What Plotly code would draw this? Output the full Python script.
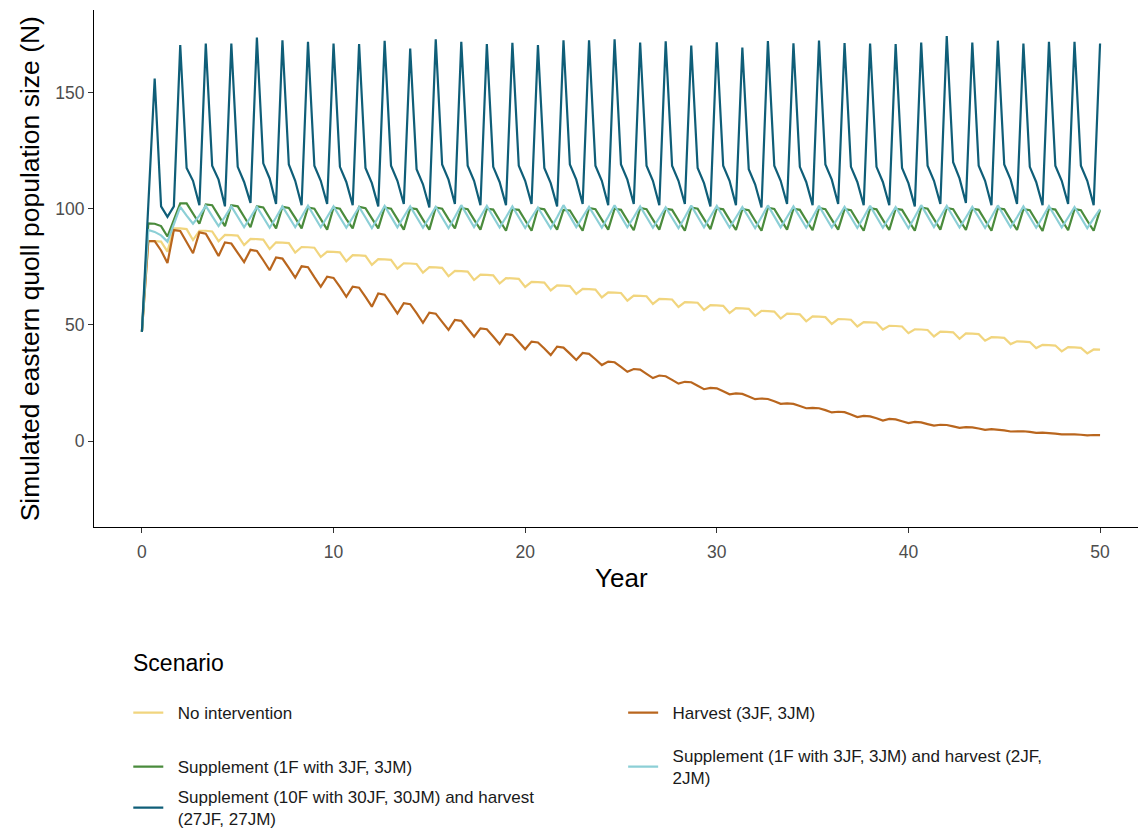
import plotly.graph_objects as go

# time grid: 151 steps of one third of a year (0 .. 50)
steps = list(range(151))
year = [s / 3 for s in steps]

no_intervention = [
    47,
    86, 86, 85.8, 81.5, 91.5, 91.5, 91.2, 86.5, 90.5, 90.5, 90.2, 86,
    88.7, 88.6, 88.4, 84.3, 87, 86.9, 86.7, 82.6, 85.5, 85.4, 85.2, 81.1,
    83.5, 83.4, 83.2, 79.2, 81.5, 81.4, 81.2, 77.3, 80, 79.9, 79.7, 75.8,
    78.3, 78.2, 78, 74.2, 76.5, 76.4, 76.2, 72.5, 74.8, 74.7, 74.5, 70.9,
    73.2, 73.1, 72.9, 69.3, 71.6, 71.5, 71.3, 67.8, 70.1, 70, 69.8, 66.3,
    68.5, 68.4, 68.2, 64.8, 67, 66.9, 66.7, 63.3, 65.5, 65.4, 65.2, 61.8,
    64, 63.9, 63.7, 60.4, 62.6, 62.5, 62.3, 59, 61.2, 61.1, 60.9, 57.7,
    59.8, 59.7, 59.5, 56.4, 58.5, 58.4, 58.2, 55.1, 57.2, 57.1, 56.9, 53.9,
    56, 55.9, 55.7, 52.7, 54.8, 54.7, 54.5, 51.5, 53.6, 53.5, 53.3, 50.4,
    52.5, 52.4, 52.2, 49.3, 51.2, 51.1, 50.9, 48, 49.6, 49.5, 49.3, 46.4,
    48.1, 48, 47.8, 45, 47.1, 47, 46.8, 44, 46.3, 46.2, 46, 43.2,
    44.7, 44.6, 44.4, 41.7, 42.9, 42.8, 42.6, 40, 41.4, 41.3, 41.1, 38.6,
    40.4, 40.3, 40.1, 37.7, 39.4, 39.3,
]

harvest = [
    47,
    86, 86, 82, 76.6, 90.8, 90.4, 85.8, 80.8, 89.8, 89.2, 84.5, 79.6,
    85.5, 85, 81, 77, 82.3, 81.8, 77.8, 73.5, 79, 78.5, 74.5, 70.3,
    75.2, 74.8, 70.5, 66.4, 70.7, 70.2, 66.3, 62.1, 66.4, 66, 62, 57.8,
    63.5, 63, 59, 54.9, 59.3, 58.9, 55, 50.9, 55.2, 54.8, 51.3, 47.8,
    52.1, 51.7, 48.3, 44.9, 48.5, 48.1, 45, 41.7, 46, 45.6, 42.6, 39.5,
    42.8, 42.4, 39.8, 37, 40.6, 40.2, 37.6, 34.9, 37.9, 37.5, 35.2, 32.7,
    34.2, 33.9, 31.9, 29.8, 31, 30.7, 28.9, 27.1, 28.2, 27.9, 26.3, 24.7,
    25.5, 25.3, 23.8, 22.3, 22.9, 22.7, 21.4, 20.1, 20.5, 20.3, 19.2, 18,
    18.3, 18.1, 17.1, 16, 16.2, 16, 15.1, 14.1, 14.3, 14.1, 13.3, 12.3,
    12.6, 12.4, 11.4, 10.3, 10.8, 10.6, 9.8, 8.8, 9.5, 9.3, 8.5, 7.7,
    8.2, 8, 7.3, 6.6, 7, 6.9, 6.3, 5.7, 6, 5.9, 5.4, 4.8,
    5.1, 5, 4.6, 4.1, 4.3, 4.2, 3.9, 3.5, 3.6, 3.5, 3.2, 2.9,
    3, 2.9, 2.7, 2.4, 2.6, 2.5,
]

supplement = [
    47,
    93.7, 93.5, 92.5, 88, 95, 102.3, 102.3, 98, 93.5, 101.8, 101.5, 97,
    92.5, 101.5, 101, 96.5, 92, 101, 100.5, 96, 91.5, 100.8, 100.3, 96,
    91.5, 100.5, 100, 95.5, 91, 100.5, 100, 95.5, 91.5, 100.8, 100.2, 95.8,
    91.5, 100.5, 100, 95.5, 91, 100.2, 99.8, 95.3, 91, 100.5, 100, 95.5,
    91.5, 100.3, 99.8, 95.3, 91, 100, 99.6, 95, 90.5, 99.8, 99.5, 95,
    90.5, 100.2, 99.7, 95.2, 91, 99.5, 99.2, 94.8, 90.5, 100.3, 99.8, 95.3,
    91, 100, 99.5, 95, 90.7, 100.3, 99.8, 95.3, 91, 100, 99.5, 95,
    90.5, 100.5, 100, 95.5, 91.2, 100.2, 99.7, 95.2, 90.8, 99.8, 99.3, 94.8,
    90.5, 100.4, 99.9, 95.4, 91, 100, 99.5, 95, 90.7, 100.3, 99.8, 95.3,
    91, 99.8, 99.3, 94.8, 90.5, 100.2, 99.7, 95.2, 90.8, 100, 99.5, 95,
    90.5, 100.5, 100, 95.5, 91, 100.3, 99.8, 95.3, 90.8, 100, 99.5, 95,
    90.5, 100.2, 99.7, 95.2, 90.8, 99.8, 99.3, 94.8, 90.4, 100.1, 99.6, 95.1,
    90.7, 99.8, 99.3, 94.8, 90.5, 99.5,
]

supplement_harvest = [
    47,
    90.8, 90, 88.5, 85.8, 93, 100.8, 97, 93.5, 97, 101.2, 96.8, 92.5,
    96.5, 101, 96.5, 92, 96.3, 100.8, 96.3, 91.8, 96.2, 101, 96.5, 92,
    96.5, 101.3, 96.6, 92, 96.4, 101, 96.3, 91.8, 96.2, 100.7, 96.2, 91.6,
    96.3, 101.2, 96.6, 92, 96.5, 101, 96.4, 91.8, 96.2, 100.8, 96.2, 91.6,
    96.4, 101.5, 96.8, 92.1, 96.5, 101.2, 96.5, 91.9, 96.3, 101, 96.3, 91.7,
    96.2, 100.5, 96, 91.5, 96.3, 101.5, 96.8, 92.1, 96.4, 100.8, 96.3, 91.8,
    96.5, 101.5, 96.7, 92, 96.3, 101, 96.4, 91.8, 96.1, 100.6, 96.1, 91.6,
    96.3, 101.3, 96.6, 92, 96.5, 101.2, 96.5, 91.9, 96.2, 100.7, 96.2, 91.6,
    96.4, 101.4, 96.7, 92, 96.4, 101, 96.4, 91.8, 96.3, 101.2, 96.5, 91.9,
    96.2, 100.8, 96.3, 91.7, 96.3, 101.2, 96.5, 91.8, 96.2, 100.7, 96.2, 91.6,
    96.4, 101.5, 96.8, 92.1, 96.5, 101.2, 96.5, 91.9, 96.2, 100.8, 96.3, 91.7,
    96.4, 101.4, 96.7, 92, 96.3, 101, 96.4, 91.8, 96.3, 101.1, 96.5, 91.9,
    96.2, 100.7, 96.2, 91.6, 95.8, 99.8,
]

big_supplement_harvest = [
    47, 101.5, 156,
    101, 96.5, 101, 170.4,
    117.5, 112, 101.5, 171.1,
    118.5, 112.5, 101, 171.1,
    118, 111.5, 102.5, 173.6,
    119.5, 113, 102, 172.5,
    119, 112, 101.5, 171.8,
    118.5, 112, 102, 171.1,
    118, 111.5, 101.5, 170.8,
    117.5, 111, 101, 172.2,
    118.5, 112, 102, 168.9,
    117, 110.5, 100.5, 172.9,
    119, 112.5, 102, 171.8,
    118.5, 112, 101.5, 170.8,
    118, 111.5, 101.5, 171.4,
    118.5, 112, 102, 170.4,
    117.5, 111, 101, 172.5,
    119, 112.5, 102, 172.5,
    118.5, 112, 101.5, 172.9,
    119, 112.5, 102, 171.5,
    118.5, 112, 101.5, 172,
    118.5, 112, 102, 170.2,
    117.5, 111, 101, 171.6,
    118.5, 112, 101.5, 169.3,
    117, 110.5, 100.5, 172.1,
    118.5, 112, 102, 171.2,
    118, 111.5, 101.5, 172.4,
    119, 112.5, 102, 171.3,
    118, 111.5, 101.5, 171.1,
    118, 111.5, 101.5, 170.8,
    117.5, 111, 101, 171.5,
    118.5, 112, 102, 174.3,
    120, 113, 102.5, 171.5,
    118.5, 112, 101.5, 172.3,
    119, 112.5, 102, 171.1,
    118, 111.5, 101.5, 171.8,
    118.5, 112, 102, 171.8,
    118.5, 112, 101.5, 171.1,
]

scenarios = [
    "No intervention",
    "Harvest (3JF, 3JM)",
    "Supplement (1F with 3JF, 3JM)",
    "Supplement (1F with 3JF, 3JM) and harvest (2JF,<br>2JM)",
    "Supplement (10F with 30JF, 30JM) and harvest<br>(27JF, 27JM)",
]
series = [no_intervention, harvest, supplement, supplement_harvest, big_supplement_harvest]
colors = ["#F1D57E", "#B9661E", "#4A8B3C", "#8CCFD6", "#0F5E78"]
legend_ids = ["legend", "legend2", "legend3", "legend4", "legend5"]

x_ticks = [0, 10, 20, 30, 40, 50]
y_ticks = [0, 50, 100, 150]

FONT = "Liberation Sans, Arial, sans-serif"
PAD = "&nbsp;&nbsp;"

fig = go.Figure()
for name, vals, col, lg in zip(scenarios, series, colors, legend_ids):
    fig.add_trace(go.Scatter(
        x=year, y=vals, mode="lines", name=PAD + name.replace("<br>", "<br>" + PAD),
        line=dict(color=col, width=2.2),
        legend=lg, showlegend=True,
    ))

# plot-area pixel geometry
W, H = 1138, 830
L, R, T, B = 93.7, 0, 10, 303
pw, ph = W - L - R, H - T - B

def px_x(px):
    return (px - L) / pw

def px_y(py):
    return (H - B - py) / ph

leg_common = dict(
    orientation="v", xanchor="left", yanchor="middle",
    bgcolor="rgba(0,0,0,0)", borderwidth=0,
    font=dict(family=FONT, size=17, color="#1a1a1a"),
    itemwidth=30, tracegroupgap=0,
)
legend_pos = [(128, 713), (623, 713), (128, 767), (623, 767), (128, 808)]
layout_legends = {}
for lg, (lx, ly) in zip(legend_ids, legend_pos):
    layout_legends[lg] = dict(x=px_x(lx), y=px_y(ly), **leg_common)

fig.update_layout(
    width=W, height=H,
    margin=dict(l=L, r=R, t=T, b=B, pad=0, autoexpand=False),
    paper_bgcolor="white", plot_bgcolor="white",
    font=dict(family=FONT, color="#000000"),
    xaxis=dict(
        range=[-2.5, 51.98], tickvals=x_ticks, ticktext=[str(v) for v in x_ticks],
        showgrid=False, zeroline=False, showline=True, linecolor="#000000", linewidth=1.2,
        ticks="outside", ticklen=5, tickwidth=1.2, tickcolor="#333333",
        ticklabelstandoff=4,
        tickfont=dict(family=FONT, size=17.5, color="#4D4D4D"),
    ),
    yaxis=dict(
        range=[-37, 185.5], tickvals=y_ticks, ticktext=[str(v) for v in y_ticks],
        showgrid=False, zeroline=False, showline=True, linecolor="#000000", linewidth=1.2,
        ticks="outside", ticklen=5, tickwidth=1.2, tickcolor="#333333",
        tickfont=dict(family=FONT, size=17.5, color="#4D4D4D"),
    ),
    showlegend=True,
    annotations=[
        dict(text="Simulated eastern quoll population size (N)", xref="paper", yref="paper",
             x=px_x(30), y=px_y(269), textangle=-90, showarrow=False,
             xanchor="center", yanchor="middle",
             font=dict(family=FONT, size=26.5, color="#000000")),
        dict(text="Year", xref="paper", yref="paper", x=px_x(621), y=px_y(578),
             showarrow=False, xanchor="center", yanchor="middle",
             font=dict(family=FONT, size=26, color="#000000")),
        dict(text="Scenario", xref="paper", yref="paper", x=px_x(131), y=px_y(663),
             showarrow=False, xanchor="left", yanchor="middle",
             font=dict(family=FONT, size=23, color="#000000")),
    ],
    **layout_legends,
)

fig.write_html("out.html")
